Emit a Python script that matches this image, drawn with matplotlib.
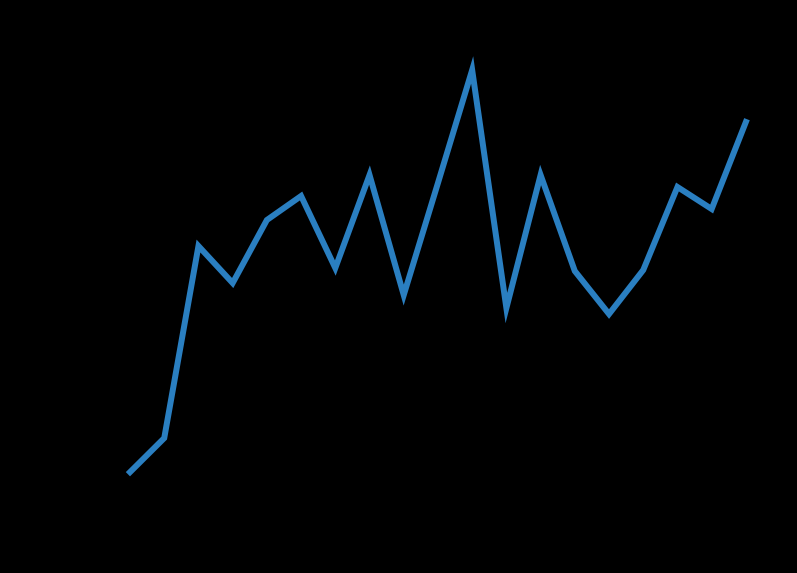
import numpy as np
import matplotlib
matplotlib.use("Agg")
import matplotlib.pyplot as plt

# values (arbitrary units, no readable axis)
steps = list(range(1, 20))
values = [101, 135, 327, 290, 353, 377, 305, 398, 278, 390,
          503, 265, 398, 302, 259, 303, 386, 364, 451]

fig = plt.figure(figsize=(7.97, 5.73), dpi=100, facecolor="black")
ax = fig.add_axes([0.1245, 0.141, 0.850, 0.772], facecolor="black")
ax.plot(steps, values, color="#2a7fc1", linewidth=4.3, solid_joinstyle="miter")
ax.set_xlim(steps[0] - 0.05 * (steps[-1] - steps[0]), steps[-1] + 0.05 * (steps[-1] - steps[0]))
span = max(values) - min(values)
ax.set_ylim(min(values) - 0.05 * span, max(values) + 0.05 * span)

# reference shows only the line: axes and text are black on black
for s in ax.spines.values():
    s.set_color("black")
ax.tick_params(colors="black")

fig.savefig("out.png", dpi=100, facecolor="black")
